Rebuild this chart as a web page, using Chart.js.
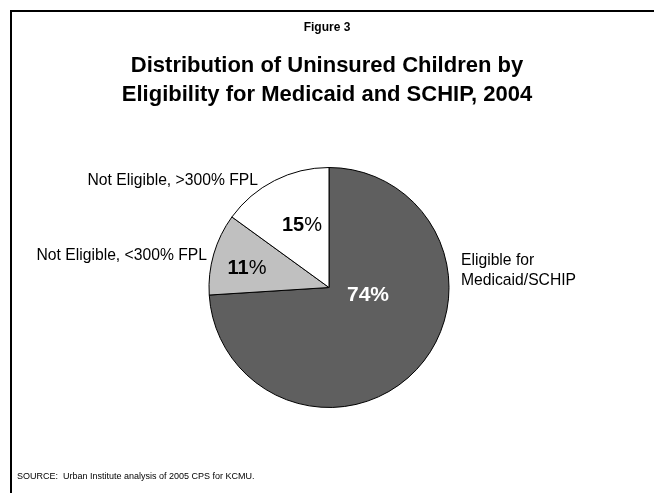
<!DOCTYPE html>
<html>
<head>
<meta charset="utf-8">
<script src="https://cdn.jsdelivr.net/npm/chart.js@4"></script>
<style>
  html, body { margin: 0; padding: 0; background: #fff; }
  #wrap { width: 654px; height: 493px; position: relative; }
</style>
</head>
<body>
<div id="wrap"><canvas id="chart"></canvas></div>
<script>
// data
const categories = [["Eligible for", "Medicaid/SCHIP"], ["Not Eligible, <300% FPL"], ["Not Eligible, >300% FPL"]];
const shares = [74, 11, 15];
const sliceColors = ["#5f5f5f", "#c0c0c0", "#ffffff"];

const FONT = "'Liberation Sans', Arial, sans-serif";

// frame, titles and source note
const pagePlugin = {
  id: "page",
  beforeDraw(chart) {
    const ctx = chart.ctx;
    ctx.save();
    ctx.fillStyle = "#fff";
    ctx.fillRect(0, 0, chart.width, chart.height);
    ctx.strokeStyle = "#000";
    ctx.lineWidth = 2;
    ctx.beginPath();
    ctx.moveTo(11, chart.height);
    ctx.lineTo(11, 11);
    ctx.lineTo(chart.width, 11);
    ctx.stroke();

    ctx.fillStyle = "#000";
    ctx.textAlign = "center";
    ctx.textBaseline = "alphabetic";
    ctx.font = "bold 12px " + FONT;
    ctx.fillText("Figure 3", 327, 31);
    ctx.font = "bold 22px " + FONT;
    ctx.fillText("Distribution of Uninsured Children by", 327, 72);
    ctx.fillText("Eligibility for Medicaid and SCHIP, 2004", 327, 101);

    ctx.textAlign = "left";
    ctx.font = "9px " + FONT;
    ctx.fillText("SOURCE:  Urban Institute analysis of 2005 CPS for KCMU.", 17, 479);
    ctx.restore();
  }
};

// slice labels: outside category names and inside percentages
const labelPlugin = {
  id: "sliceLabels",
  afterDatasetsDraw(chart) {
    const ctx = chart.ctx;
    const arcs = chart.getDatasetMeta(0).data;
    const cx = arcs[0].x, cy = arcs[0].y;
    ctx.save();
    ctx.fillStyle = "#000";
    ctx.textBaseline = "alphabetic";
    ctx.font = "15.7px " + FONT;

    // Eligible
    ctx.textAlign = "left";
    categories[0].forEach((line, i) => ctx.fillText(line, cx + 132, cy - 23 + i * 20));
    // <300%
    ctx.textAlign = "right";
    ctx.fillText(categories[1][0], cx - 122, cy - 28);
    // >300%
    ctx.fillText(categories[2][0], cx - 71, cy - 103);

    // percentages
    const pct = [
      { dx: 39, dy: 8, size: 21, color: "#fff", boldSign: true },
      { dx: -82, dy: -19, size: 20, color: "#000", boldSign: false },
      { dx: -27, dy: -62, size: 20, color: "#000", boldSign: false }
    ];
    ctx.textBaseline = "middle";
    ctx.textAlign = "left";
    shares.forEach((v, i) => {
      const p = pct[i];
      const num = String(v);
      ctx.font = "bold " + p.size + "px " + FONT;
      const wNum = ctx.measureText(num).width;
      ctx.font = (p.boldSign ? "bold " : "") + p.size + "px " + FONT;
      const wSign = ctx.measureText("%").width;
      const x0 = cx + p.dx - (wNum + wSign) / 2;
      const y = cy + p.dy;
      ctx.fillStyle = p.color;
      ctx.font = "bold " + p.size + "px " + FONT;
      ctx.fillText(num, x0, y);
      ctx.font = (p.boldSign ? "bold " : "") + p.size + "px " + FONT;
      ctx.fillText("%", x0 + wNum, y);
    });
    ctx.restore();
  }
};

new Chart(document.getElementById("chart"), {
  type: "pie",
  data: {
    labels: categories.map((c) => c.join(" ")),
    datasets: [
      {
        data: shares,
        backgroundColor: sliceColors,
        borderColor: "#000",
        borderWidth: 1
      }
    ]
  },
  options: {
    responsive: true,
    maintainAspectRatio: false,
    animation: false,
    events: [],
    layout: { padding: { top: 167, bottom: 85, left: 204, right: 200 } },
    plugins: {
      legend: { display: false },
      tooltip: { enabled: false },
      title: { display: false }
    }
  },
  plugins: [pagePlugin, labelPlugin]
});
</script>
</body>
</html>
